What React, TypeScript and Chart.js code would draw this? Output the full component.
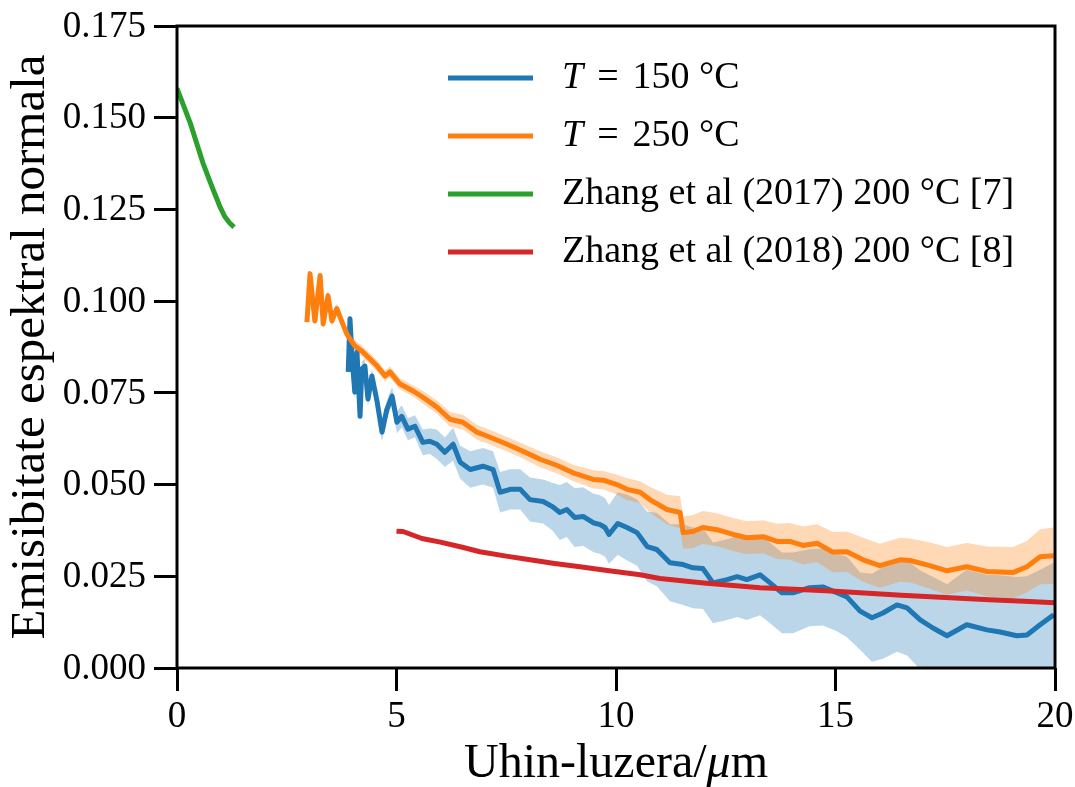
import React, { useEffect, useRef } from "react";
import { Chart, registerables } from "chart.js";

Chart.register(...registerables);

const FONT = "'Liberation Serif', serif";

// Axis ticks
const X_TICKS = [0, 5, 10, 15, 20];
const Y_TICKS = [0, 0.025, 0.05, 0.075, 0.1, 0.125, 0.15, 0.175];

const X_TITLE_PARTS = ["Uhin-luzera/", "μ", "m"];
const Y_TITLE = "Emisibitate espektral normala";

const SERIES_NAMES = [
  "T = 150 °C",
  "T = 250 °C",
  "Zhang et al (2017) 200 °C [7]",
  "Zhang et al (2018) 200 °C [8]",
];
const SERIES_COLORS = ["#1f77b4", "#ff7f0e", "#2ca02c", "#d62728"];

// T = 150 °C
const blueX = [3.90, 3.94, 3.99, 4.05, 4.10, 4.17, 4.21, 4.28, 4.35, 4.44, 4.56, 4.67, 4.78, 4.90, 5.01, 5.12, 5.26, 5.42, 5.60, 5.76, 5.92, 6.10, 6.29, 6.45, 6.68, 6.97, 7.20, 7.36, 7.59, 7.82, 8.04, 8.34, 8.55, 8.72, 8.88, 9.06, 9.25, 9.48, 9.64, 9.75, 9.84, 10.04, 10.25, 10.48, 10.71, 10.93, 11.23, 11.53, 11.75, 11.98, 12.21, 12.53, 12.76, 12.98, 13.28, 13.51, 13.78, 14.03, 14.41, 14.71, 15.03, 15.26, 15.56, 15.83, 16.08, 16.40, 16.63, 16.93, 17.22, 17.54, 17.99, 18.45, 18.75, 19.13, 19.36, 19.66, 19.97];
const blueY = [0.0807, 0.0952, 0.0842, 0.0752, 0.0861, 0.0686, 0.0815, 0.0823, 0.0733, 0.0796, 0.0725, 0.0643, 0.0705, 0.0741, 0.0670, 0.0686, 0.0651, 0.0659, 0.0615, 0.0618, 0.0610, 0.0588, 0.0610, 0.0561, 0.0541, 0.0550, 0.0541, 0.0479, 0.0487, 0.0487, 0.0459, 0.0454, 0.0440, 0.0424, 0.0432, 0.0410, 0.0413, 0.0396, 0.0391, 0.0383, 0.0364, 0.0394, 0.0383, 0.0369, 0.0331, 0.0323, 0.0287, 0.0282, 0.0273, 0.0271, 0.0232, 0.0241, 0.0249, 0.0241, 0.0254, 0.0232, 0.0205, 0.0205, 0.0219, 0.0221, 0.0205, 0.0194, 0.0155, 0.0137, 0.0150, 0.0172, 0.0164, 0.0131, 0.0109, 0.0088, 0.0118, 0.0104, 0.0098, 0.0088, 0.0090, 0.0118, 0.0145];
const blueErr = [0.002, 0.002, 0.002, 0.002, 0.002, 0.002, 0.002, 0.002, 0.002, 0.002, 0.0025, 0.0025, 0.0025, 0.0025, 0.003, 0.003, 0.003, 0.003, 0.0035, 0.0035, 0.004, 0.004, 0.0045, 0.0045, 0.005, 0.005, 0.005, 0.0055, 0.0055, 0.0055, 0.006, 0.006, 0.0065, 0.0075, 0.0075, 0.008, 0.008, 0.008, 0.008, 0.008, 0.008, 0.0085, 0.009, 0.009, 0.0095, 0.010, 0.0105, 0.011, 0.011, 0.011, 0.011, 0.011, 0.011, 0.011, 0.011, 0.011, 0.011, 0.011, 0.0105, 0.0105, 0.0105, 0.011, 0.0105, 0.012, 0.0125, 0.0128, 0.013, 0.0135, 0.014, 0.014, 0.015, 0.015, 0.0155, 0.016, 0.016, 0.015, 0.0142];

// T = 250 °C
const orangeX = [2.96, 3.03, 3.14, 3.26, 3.33, 3.44, 3.53, 3.64, 3.76, 3.87, 4.05, 4.21, 4.40, 4.56, 4.74, 4.85, 5.08, 5.38, 5.60, 5.92, 6.22, 6.51, 6.83, 7.13, 7.52, 7.88, 8.27, 8.66, 9.02, 9.48, 9.71, 10.02, 10.25, 10.55, 10.77, 11.16, 11.46, 11.53, 11.75, 11.98, 12.30, 12.67, 12.98, 13.35, 13.67, 13.96, 14.26, 14.58, 14.94, 15.26, 15.63, 16.01, 16.47, 16.70, 17.15, 17.54, 17.99, 18.45, 19.04, 19.36, 19.66, 19.97];
const orangeY = [0.0943, 0.1075, 0.0946, 0.1070, 0.0938, 0.1015, 0.0946, 0.0980, 0.0943, 0.0910, 0.0878, 0.0864, 0.0842, 0.0823, 0.0796, 0.0807, 0.0774, 0.0755, 0.0738, 0.0711, 0.0678, 0.0670, 0.0643, 0.0629, 0.0610, 0.0591, 0.0569, 0.0552, 0.0532, 0.0514, 0.0512, 0.0500, 0.0487, 0.0479, 0.0459, 0.0432, 0.0424, 0.0369, 0.0372, 0.0383, 0.0377, 0.0364, 0.0355, 0.0358, 0.0345, 0.0345, 0.0334, 0.0340, 0.0316, 0.0317, 0.0295, 0.0279, 0.0295, 0.0293, 0.0279, 0.0265, 0.0276, 0.0263, 0.0260, 0.0276, 0.0303, 0.0306];
const orangeErr = [0.001, 0.0015, 0.0015, 0.0015, 0.0015, 0.0015, 0.0015, 0.0015, 0.0015, 0.0015, 0.0015, 0.0015, 0.0015, 0.0015, 0.0015, 0.0015, 0.0015, 0.0015, 0.0018, 0.0018, 0.002, 0.002, 0.002, 0.002, 0.002, 0.002, 0.0022, 0.0022, 0.0022, 0.0025, 0.0025, 0.0027, 0.003, 0.003, 0.0035, 0.004, 0.0044, 0.0044, 0.0045, 0.0045, 0.0045, 0.0045, 0.0045, 0.0045, 0.0048, 0.005, 0.0052, 0.0052, 0.0055, 0.0055, 0.006, 0.006, 0.006, 0.006, 0.0063, 0.0065, 0.0065, 0.0068, 0.007, 0.007, 0.0075, 0.0077];

// Zhang et al (2017)
const greenX = [0, 0.3, 0.59, 0.8, 0.87, 0.98, 1.09, 1.2, 1.3];
const greenY = [0.158, 0.1486, 0.1377, 0.1311, 0.129, 0.1257, 0.123, 0.1213, 0.1202];

// Zhang et al (2018)
const redX = [5.0, 5.15, 5.58, 6.0, 6.5, 6.9, 7.5, 8.04, 8.6, 9.18, 9.8, 10.55, 11.0, 12.0, 13.28, 14.19, 15.0, 15.56, 16.5, 17.5, 18.5, 19.3, 20.0];
const redY = [0.0373, 0.0372, 0.0353, 0.0343, 0.0329, 0.0317, 0.0305, 0.0295, 0.0285, 0.0276, 0.0266, 0.0254, 0.0244, 0.0232, 0.0219, 0.0214, 0.0209, 0.0205, 0.0198, 0.0192, 0.0186, 0.0182, 0.0178];

const pts = (xs: number[], ys: number[]) => xs.map((x, i) => ({ x, y: ys[i] }));
const band = (xs: number[], ys: number[], es: number[], s: number) =>
  xs.map((x, i) => ({ x, y: ys[i] + s * es[i] }));

const fmtX = (v: number) => String(v);
const fmtY = (v: number) => Number(v).toFixed(3);

const overlayPlugin = {
  id: "overlay",
  afterDraw(chart: any) {
    const ctx = chart.ctx as CanvasRenderingContext2D;
    const { left, top, right, bottom } = chart.chartArea;
    const xs = chart.scales.x;
    const ys = chart.scales.y;
    ctx.save();
    // spines
    ctx.strokeStyle = "#000";
    ctx.lineWidth = 3;
    ctx.strokeRect(left, top, right - left, bottom - top);

    // tick labels, positioned by the chart's scales
    ctx.fillStyle = "#000";
    ctx.font = `37px ${FONT}`;
    ctx.textAlign = "center";
    ctx.textBaseline = "alphabetic";
    xs.ticks.forEach((t: any) => {
      ctx.fillText(fmtX(t.value), xs.getPixelForValue(t.value), bottom + 59);
    });
    ctx.textAlign = "right";
    ctx.textBaseline = "middle";
    ys.ticks.forEach((t: any) => {
      ctx.fillText(fmtY(t.value), left - 31, ys.getPixelForValue(t.value) + 1);
    });

    // y axis title
    ctx.save();
    ctx.translate(44, (top + bottom) / 2);
    ctx.rotate(-Math.PI / 2);
    ctx.font = `49px ${FONT}`;
    ctx.textAlign = "center";
    ctx.textBaseline = "alphabetic";
    ctx.fillText(Y_TITLE, 0, 0);
    ctx.restore();

    // legend
    ctx.textBaseline = "middle";
    ctx.textAlign = "left";
    SERIES_NAMES.forEach((name, i) => {
      const y = top + 52 + i * 58;
      ctx.strokeStyle = SERIES_COLORS[i];
      ctx.lineWidth = 5;
      ctx.lineCap = "butt";
      ctx.beginPath();
      ctx.moveTo(left + 271, y);
      ctx.lineTo(left + 356, y);
      ctx.stroke();
      let tx = left + 385;
      ctx.fillStyle = "#000";
      if (name.startsWith("T ")) {
        const rest = name.slice(1).trim();
        const eq = rest.slice(0, 1);
        const tail = rest.slice(1).trim();
        ctx.font = `italic 38px ${FONT}`;
        ctx.fillText("T", tx, y);
        tx += ctx.measureText("T").width + 14;
        ctx.font = `38px ${FONT}`;
        ctx.fillText(eq, tx, y);
        tx += ctx.measureText(eq).width + 14;
        ctx.fillText(tail, tx, y);
      } else {
        ctx.font = `38px ${FONT}`;
        ctx.fillText(name, tx, y);
      }
    });

    // x axis title with italic mu
    const fonts = [`48px ${FONT}`, `italic 48px ${FONT}`, `48px ${FONT}`];
    let total = 0;
    const widths = X_TITLE_PARTS.map((p, i) => {
      ctx.font = fonts[i];
      const w = ctx.measureText(p).width;
      total += w;
      return w;
    });
    let x = (left + right) / 2 - total / 2;
    ctx.textBaseline = "alphabetic";
    ctx.textAlign = "left";
    ctx.fillStyle = "#000";
    X_TITLE_PARTS.forEach((p, i) => {
      ctx.font = fonts[i];
      ctx.fillText(p, x, 777);
      x += widths[i];
    });
    ctx.restore();
  },
};

export default function App() {
  const ref = useRef<HTMLCanvasElement | null>(null);
  useEffect(() => {
    if (!ref.current) return;
    const noLine = { borderWidth: 0, borderColor: "transparent", pointRadius: 0 };
    const chart = new Chart(ref.current, {
      type: "line",
      data: {
        datasets: [
          { label: "blueLo", data: band(blueX, blueY, blueErr, -1), ...noLine, fill: false, order: 6 },
          { label: "blueHi", data: band(blueX, blueY, blueErr, 1), ...noLine, fill: "-1", backgroundColor: "rgba(31,119,180,0.3)", order: 6 },
          { label: "orangeLo", data: band(orangeX, orangeY, orangeErr, -1), ...noLine, fill: false, order: 5 },
          { label: "orangeHi", data: band(orangeX, orangeY, orangeErr, 1), ...noLine, fill: "-1", backgroundColor: "rgba(255,127,14,0.3)", order: 5 },
          { label: SERIES_NAMES[0], data: pts(blueX, blueY), borderColor: SERIES_COLORS[0], borderWidth: 5, pointRadius: 0, fill: false, order: 4, borderJoinStyle: "round" },
          { label: SERIES_NAMES[1], data: pts(orangeX, orangeY), borderColor: SERIES_COLORS[1], borderWidth: 5, pointRadius: 0, fill: false, order: 3, borderJoinStyle: "round" },
          { label: SERIES_NAMES[2], data: pts(greenX, greenY), borderColor: SERIES_COLORS[2], borderWidth: 5, pointRadius: 0, fill: false, order: 2, borderJoinStyle: "round" },
          { label: SERIES_NAMES[3], data: pts(redX, redY), borderColor: SERIES_COLORS[3], borderWidth: 5, pointRadius: 0, fill: false, order: 1, borderJoinStyle: "round" },
        ] as any,
      },
      options: {
        animation: false,
        responsive: false,
        devicePixelRatio: 1,
        layout: { padding: { top: 26, right: 20, left: 0, bottom: 0 } },
        plugins: { legend: { display: false }, tooltip: { enabled: false } },
        scales: {
          x: {
            type: "linear",
            min: 0,
            max: 20,
            afterBuildTicks: (s: any) => {
              s.ticks = X_TICKS.map((v) => ({ value: v }));
            },
            afterFit: (s: any) => {
              s.height = 119;
            },
            ticks: { display: false, autoSkip: false },
            grid: { display: true, drawOnChartArea: false, drawTicks: true, tickLength: 23, tickWidth: 3, tickColor: "#000" },
            border: { display: false },
          },
          y: {
            type: "linear",
            min: 0,
            max: 0.175,
            afterBuildTicks: (s: any) => {
              s.ticks = Y_TICKS.map((v) => ({ value: v }));
            },
            afterFit: (s: any) => {
              s.width = 177;
            },
            ticks: { display: false, autoSkip: false },
            grid: { display: true, drawOnChartArea: false, drawTicks: true, tickLength: 23, tickWidth: 3, tickColor: "#000" },
            border: { display: false },
          },
        },
      },
      plugins: [overlayPlugin],
    } as any);
    return () => chart.destroy();
  }, []);

  return (
    <div style={{ position: "fixed", left: 0, top: 0, width: 1075, height: 787, background: "#fff" }}>
      <canvas ref={ref} width={1075} height={787} style={{ display: "block" }} />
    </div>
  );
}
